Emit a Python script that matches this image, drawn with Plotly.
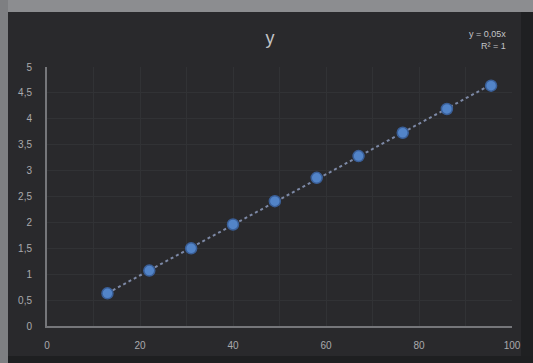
import numpy as np
import plotly.graph_objects as go

# Measured series
x_vals = [13, 22, 31, 40, 49, 58, 67, 76.5, 86, 95.5]
y_vals = [0.63, 1.07, 1.5, 1.96, 2.41, 2.86, 3.28, 3.73, 4.19, 4.64]

# Axis tick labels (decimal comma)
y_tickvals = [0, 0.5, 1, 1.5, 2, 2.5, 3, 3.5, 4, 4.5, 5]
y_ticktext = ["0", "0,5", "1", "1,5", "2", "2,5", "3", "3,5", "4", "4,5", "5"]
x_tickvals = [0, 20, 40, 60, 80, 100]
x_ticktext = ["0", "20", "40", "60", "80", "100"]

# Linear trendline through the origin (least squares)
xa = np.array(x_vals, dtype=float)
ya = np.array(y_vals, dtype=float)
slope = float((xa * ya).sum() / (xa * xa).sum())
trend_x = np.array([xa.min(), xa.max()])
trend_y = slope * trend_x

BG = "#29292c"
GRID = "#313235"
AXIS = "#75767a"
TXT = "#a9aaad"

fig = go.Figure()
fig.add_trace(go.Scatter(
    x=trend_x, y=trend_y, mode="lines",
    line=dict(color="#7d89a6", width=2, dash="dot"),
    hoverinfo="skip", showlegend=False,
))
fig.add_trace(go.Scatter(
    x=x_vals, y=y_vals, mode="markers",
    marker=dict(size=11, color="#5284c8", line=dict(color="#3a5f98", width=1.5)),
    showlegend=False,
))

fig.update_layout(
    width=533, height=363,
    margin=dict(l=47, r=21, t=67, b=37),
    paper_bgcolor=BG, plot_bgcolor=BG,
    font=dict(family="Liberation Sans, Arial, sans-serif", color=TXT, size=10),
    title=dict(text="y", x=(270 - 47) / 465, xref="paper", xanchor="center",
               y=1 - 38 / 363, yanchor="middle",
               font=dict(size=18, color="#c2c3c6")),
    xaxis=dict(
        range=[0, 100], tickvals=x_tickvals, ticktext=x_ticktext,
        showgrid=True, gridcolor=GRID, gridwidth=1,
        minor=dict(dtick=10, showgrid=True, gridcolor=GRID),
        showline=True, linecolor=AXIS, linewidth=2,
        zeroline=False, ticks="", ticklabelstandoff=9,
        tickfont=dict(size=10, color=TXT),
    ),
    yaxis=dict(
        range=[0, 5], tickvals=y_tickvals, ticktext=y_ticktext,
        showgrid=True, gridcolor=GRID, gridwidth=1,
        showline=True, linecolor=AXIS, linewidth=2,
        zeroline=False, ticks="", ticklabelstandoff=11,
        tickfont=dict(size=10, color=TXT),
    ),
    annotations=[
        dict(text="y = 0,05x<br>R² = 1", xref="paper", yref="paper",
             x=(508 - 47) / 465, y=(326 - 40) / 259, xanchor="right", yanchor="middle",
             showarrow=False, align="right",
             font=dict(size=9, color="#c4c5c8")),
    ],
    shapes=[
        # window chrome strip along the top
        dict(type="rect", xref="paper", yref="paper", layer="above",
             x0=-0.2, x1=1.1, y0=(326 - 12) / 259, y1=(326 + 5) / 259,
             fillcolor="#8c8d90", line=dict(width=0)),
        # window chrome strip along the left edge
        dict(type="rect", xref="paper", yref="paper", layer="above",
             x0=-0.2, x1=(8 - 47) / 465, y0=-0.3, y1=1.3,
             fillcolor="#7e7f82", line=dict(width=0)),
        # darker margin on the right
        dict(type="rect", xref="paper", yref="paper", layer="below",
             x0=(521 - 47) / 465, x1=1.2, y0=-0.3, y1=(326 - 12) / 259,
             fillcolor="#1f2022", line=dict(width=0)),
        # darker strip along the bottom
        dict(type="rect", xref="paper", yref="paper", layer="below",
             x0=-0.2, x1=1.2, y0=(326 - 363) / 259, y1=(326 - 356) / 259,
             fillcolor="#1e1f21", line=dict(width=0)),
    ],
)

fig.write_html("out.html")
